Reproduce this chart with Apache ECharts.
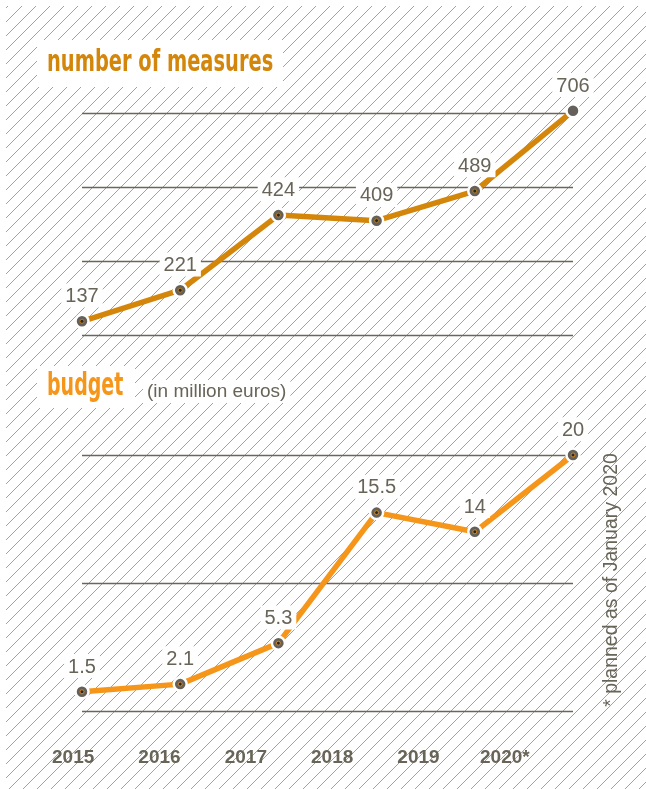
<!DOCTYPE html>
<html>
<head>
<meta charset="utf-8">
<script src="https://cdn.jsdelivr.net/npm/echarts@6/dist/echarts.min.js"></script>
<style>
  html, body { margin: 0; padding: 0; background: #fff; }
  #chart { width: 646px; height: 789px; }
</style>
</head>
<body>
<div id="chart"></div>
<script>
// data
const years = ['2015', '2016', '2017', '2018', '2019', '2020']
const yearLabels = ['2015', '2016', '2017', '2018', '2019', '2020*']
const measures = [137, 221, 424, 409, 489, 706]
const budget = [1.5, 2.1, 5.3, 15.5, 14, 20]
const measureTicks = { min: 100, max: 700, step: 200 }
const budgetTicks = { min: 0, max: 20, step: 10 }

const GRAY = '#686457'
const DARK_ORANGE = '#d4860b'
const ORANGE = '#f5961a'
const TITLE_FONT = "'DejaVu Sans Condensed', 'DejaVu Sans', sans-serif"
const FONT = "'Liberation Sans', Arial, sans-serif"

// hatch tile for the background
const tile = document.createElement('canvas')
tile.width = 14
tile.height = 14
const ctx = tile.getContext('2d')
ctx.strokeStyle = '#a2a2a2'
ctx.lineWidth = 1
ctx.beginPath()
ctx.moveTo(-1, 15)
ctx.lineTo(15, -1)
ctx.stroke()

const chart = echarts.init(document.getElementById('chart'))

const valueAxis = (t, gridIndex) => ({
  type: 'value',
  gridIndex,
  min: t.min,
  max: t.max,
  interval: t.step,
  axisLine: { show: false },
  axisTick: { show: false },
  axisLabel: { show: false },
  splitLine: { lineStyle: { color: '#6b6659', width: 1.3 } }
})

const catAxis = (gridIndex) => ({
  type: 'category',
  gridIndex,
  data: years,
  boundaryGap: false,
  axisLine: { show: false },
  axisTick: { show: false },
  axisLabel: { show: false }
})

const lineSeries = (data, color, idx) => ({
  type: 'line',
  xAxisIndex: idx,
  yAxisIndex: idx,
  data,
  clip: false,
  lineStyle: { color, width: 5.5 },
  symbol: 'circle',
  symbolSize: 13,
  itemStyle: { color: '#65615a', borderColor: '#fff', borderWidth: 2.5 },
  label: {
    show: true,
    position: 'top',
    distance: 6,
    color: GRAY,
    fontFamily: FONT,
    fontSize: 20,
    backgroundColor: '#fff',
    padding: [3, 4, 1, 4]
  },
  z: 3
})

const dotSeries = (data, color, idx) => ({
  type: 'scatter',
  xAxisIndex: idx,
  yAxisIndex: idx,
  data,
  symbolSize: 4,
  itemStyle: { color: '#1a1a1a', borderColor: color, borderWidth: 1 },
  silent: true,
  z: 4
})

// condensed heading: white box + horizontally squeezed bold text
const heading = (text, color, size, scale, box, ty) => [
  {
    type: 'rect',
    z: 1,
    silent: true,
    shape: box,
    style: { fill: '#fff' }
  },
  {
    type: 'text',
    z: 2,
    x: box.x + 10,
    y: ty,
    scaleX: scale,
    style: {
      text,
      fill: color,
      font: 'bold ' + size + 'px ' + TITLE_FONT,
      align: 'left',
      verticalAlign: 'middle'
    }
  }
]

chart.setOption({
  animation: false,
  graphic: [
    {
      type: 'rect',
      z: -10,
      silent: true,
      shape: { x: 6, y: 6, width: 640, height: 783 },
      style: { fill: { image: tile, repeat: 'repeat' } }
    },
    ...heading('number of measures', DARK_ORANGE, 30, 0.72, { x: 37, y: 40, width: 246, height: 47 }, 63),
    ...heading('budget', ORANGE, 32, 0.66, { x: 37, y: 366, width: 98, height: 42 }, 387),
    {
      type: 'text',
      x: 612,
      y: 580,
      rotation: Math.PI / 2,
      style: {
        text: '* planned as of January 2020',
        fill: GRAY,
        font: '19.5px ' + FONT,
        align: 'center',
        verticalAlign: 'middle'
      }
    }
  ],
  title: [
    {
      text: '(in million euros)',
      left: 143,
      top: 380,
      padding: [2, 4, 2, 4],
      backgroundColor: '#fff',
      textStyle: { color: GRAY, fontFamily: FONT, fontWeight: 'normal', fontSize: 19 }
    }
  ],
  grid: [
    { left: 82, width: 491, top: 113, height: 222 },
    { left: 82, width: 491, top: 455, height: 256 },
    { left: 30, width: 518, top: 744, height: 1 }
  ],
  xAxis: [
    catAxis(0),
    catAxis(1),
    {
      type: 'category',
      gridIndex: 2,
      data: yearLabels,
      boundaryGap: true,
      axisLine: { show: false },
      axisTick: { show: false },
      axisLabel: { color: GRAY, fontFamily: FONT, fontWeight: 'bold', fontSize: 19, margin: 3 }
    }
  ],
  yAxis: [
    valueAxis(measureTicks, 0),
    valueAxis(budgetTicks, 1),
    { type: 'value', gridIndex: 2, show: false, splitLine: { show: false } }
  ],
  series: [
    lineSeries(measures, DARK_ORANGE, 0),
    dotSeries(measures, DARK_ORANGE, 0),
    lineSeries(budget, ORANGE, 1),
    dotSeries(budget, ORANGE, 1)
  ]
})
</script>
</body>
</html>
